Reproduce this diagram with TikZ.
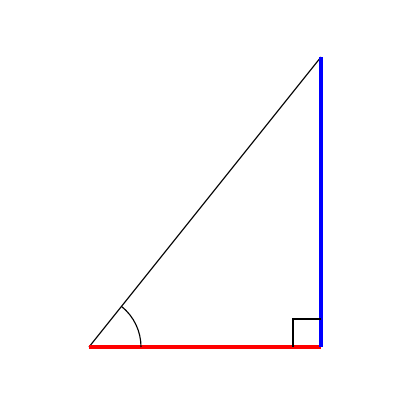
\documentclass[tikz,border=0pt]{standalone}
\usepackage{tikz}
\usetikzlibrary{
    calc
}

\begin{document}
\begin{tikzpicture}[
    x=0.025cm,
    y=-0.025cm
]

\useasboundingbox (0,0) rectangle (400,400);

\coordinate (A) at (89,347);
\coordinate (B) at (321,347);
\coordinate (C) at (321,57);

\draw[thick]
    (A) -- (C);

\draw[line width=2.4pt, red]
    (A) -- (B);

\draw[line width=2.4pt, blue]
    (B) -- (C);

\draw[thick]
    ($(B)+(0,-28)$) -- ++(-28,0) -- ++(0,28);

\draw[thick]
    ($(A)+(52,0)$) arc[start angle=0, end angle=-51.34, radius=52];

\end{tikzpicture}
\end{document}
